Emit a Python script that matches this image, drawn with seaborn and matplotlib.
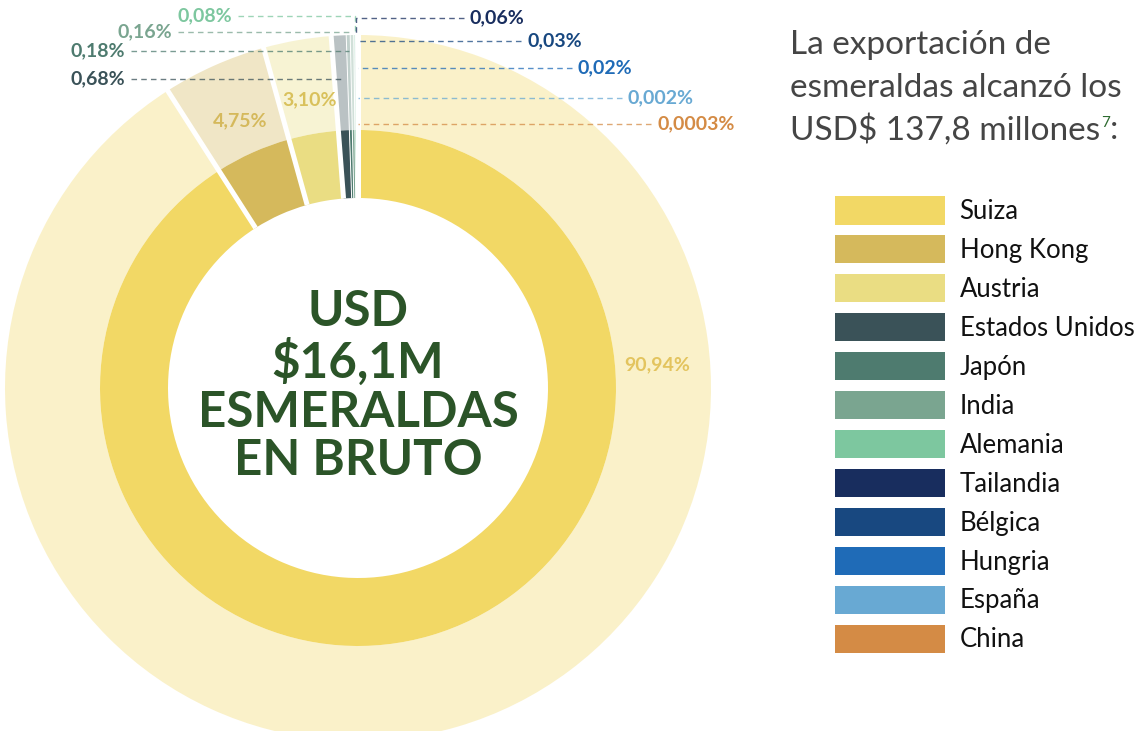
import matplotlib
matplotlib.use("Agg")
import matplotlib.pyplot as plt
import seaborn as sns
import numpy as np
from matplotlib.patches import Patch

# ---------------- data ----------------
countries = ["Suiza", "Hong Kong", "Austria", "Estados Unidos", "Japón", "India",
             "Alemania", "Tailandia", "Bélgica", "Hungria", "España", "China"]
shares = [90.94, 4.75, 3.10, 0.68, 0.18, 0.16, 0.08, 0.06, 0.03, 0.02, 0.002, 0.0003]
share_labels = ["90,94%", "4,75%", "3,10%", "0,68%", "0,18%", "0,16%", "0,08%",
                "0,06%", "0,03%", "0,02%", "0,002%", "0,0003%"]
hex_colors = ["#F2D865", "#D5B95C", "#EADD83", "#3A5258", "#4E7B6F", "#7AA590",
              "#7DC79F", "#182D5E", "#184880", "#1F6BB7", "#68A9D3", "#D48B45"]
center_text = "USD\n$16,1M\nESMERALDAS\nEN BRUTO"
title_lines = ["La exportación de", "esmeraldas alcanzó los", "USD$ 137,8 millones"]
footnote = "7"

# ---------------- style ----------------
sns.set_theme(style="white")
plt.rcParams['font.family'] = ['Lato', 'DejaVu Sans']
palette = sns.color_palette(hex_colors)

W, H = 1145, 731
fig = plt.figure(figsize=(W / 100, H / 100), dpi=100)
ax = fig.add_axes([0, 0, 1, 1])

# geometry in pixel units (y up)
cx, cy = 358, H - 388
R_out = 353
R_mid = 258
R_hole = 190

outer_colors = [(*c, 0.35) for c in palette]
w_out, _ = ax.pie(shares, radius=R_out, center=(cx, cy), colors=outer_colors,
                  startangle=90, counterclock=False,
                  wedgeprops=dict(width=R_out - R_mid, edgecolor='none', linewidth=0))
w_in, _ = ax.pie(shares, radius=R_mid, center=(cx, cy), colors=palette,
                 startangle=90, counterclock=False,
                 wedgeprops=dict(width=R_mid - R_hole, edgecolor='none', linewidth=0))

# angles (math convention, degrees)
cum = np.concatenate([[0], np.cumsum(shares)]) / np.sum(shares)
bound_ang = 90 - cum * 360
mid_ang = 90 - (cum[:-1] + np.array(shares) / np.sum(shares) / 2) * 360

# white separators between slices
for k, a in enumerate(bound_ang[:-1]):
    big = (k < 4)
    lw = 3.6 if big else 0.7
    t = np.deg2rad(a)
    ax.plot([cx + R_hole * np.cos(t), cx + (R_out + 2) * np.cos(t)],
            [cy + R_hole * np.sin(t), cy + (R_out + 2) * np.sin(t)],
            color='white', lw=lw, solid_capstyle='butt', zorder=3)

# center text
ax.text(cx, cy + 2, center_text, ha='center', va='center', fontsize=35.5,
        fontweight='bold', color='#2B5428', linespacing=1.1, zorder=5)

# big slice labels
lbl_fs = 14
gold_lbl = ["#E3C45E", "#D5B95C", "#D9C15C"]
ax.text(657, H - 365, share_labels[0], ha='center', va='center', fontsize=lbl_fs,
        fontweight='bold', color=gold_lbl[0], zorder=5)
for i in (1, 2):
    t = np.deg2rad(mid_ang[i])
    rr = 0.83 * R_out
    ax.text(cx + rr * np.cos(t) + 2, cy + rr * np.sin(t), share_labels[i],
            ha='center', va='center', fontsize=lbl_fs, fontweight='bold',
            color=gold_lbl[i], zorder=5)

# small slice labels with dashed leaders: (text x px, text y px, side)
leader_layout = {
    3: (125, 79, 'left'), 4: (125, 51, 'left'), 5: (172, 32, 'left'),
    6: (232, 16, 'left'), 7: (470, 18, 'right'), 8: (527, 41, 'right'),
    9: (578, 68, 'right'), 10: (628, 98, 'right'), 11: (657, 124, 'right'),
}
for i, (tx, ty_px, side) in leader_layout.items():
    ty = H - ty_px
    col = hex_colors[i]
    t = np.deg2rad(mid_ang[i])
    dy = ty - cy
    xr = cx + dy * np.cos(t) / np.sin(t)
    if side == 'left':
        ax.text(tx, ty, share_labels[i], ha='right', va='center', fontsize=lbl_fs,
                fontweight='bold', color=col, zorder=6)
        x0 = tx + 6
    else:
        ax.text(tx, ty, share_labels[i], ha='left', va='center', fontsize=lbl_fs,
                fontweight='bold', color=col, zorder=6)
        x0 = tx - 6
    xs, ys = [x0, xr], [ty, ty]
    dist = np.hypot(xr - cx, ty - cy)
    if dist > R_out + 5:
        yr = cy + R_out * np.sin(t)
        xs.append(cx + R_out * np.cos(t))
        ys.append(yr)
        xs[1] = xs[2]
    ax.plot(xs, ys, color=col, lw=1.0, alpha=0.75, dashes=(4, 3), zorder=4)

ax.set_xlim(0, W)
ax.set_ylim(0, H)
ax.set_aspect('equal')
ax.axis('off')

# title on the right
title_fs = 24
title_col = '#454545'
base_y = [H - 45, H - 88, H - 130]
tobjs = []
for line, y in zip(title_lines, base_y):
    tobjs.append(ax.text(790, y, line, ha='left', va='center', fontsize=title_fs,
                         color=title_col))
fig.canvas.draw()
bb = tobjs[2].get_window_extent()
ax.text(bb.x1 + 1, base_y[2] + 7, footnote, ha='left', va='center', fontsize=11,
        color='#2E6B30')
ax.text(bb.x1 + 10, base_y[2], ":", ha='left', va='center', fontsize=title_fs,
        color=title_col)

# legend
handles = [Patch(facecolor=c, edgecolor='none') for c in hex_colors]
leg = ax.legend(handles, countries, loc='upper left',
                bbox_to_anchor=(835 / W, 1 - 199 / H), bbox_transform=fig.transFigure,
                frameon=False, fontsize=18.5, handlelength=4.3, handleheight=1.0,
                handletextpad=0.55, labelspacing=0.53, borderpad=0, borderaxespad=0)
for txt in leg.get_texts():
    txt.set_color('#111111')
for p in leg.get_patches():
    p.set_height(p.get_height() * 1.22)
    p.set_y(p.get_y() - p.get_height() * 0.09)

fig.savefig("out.png", dpi=100)
